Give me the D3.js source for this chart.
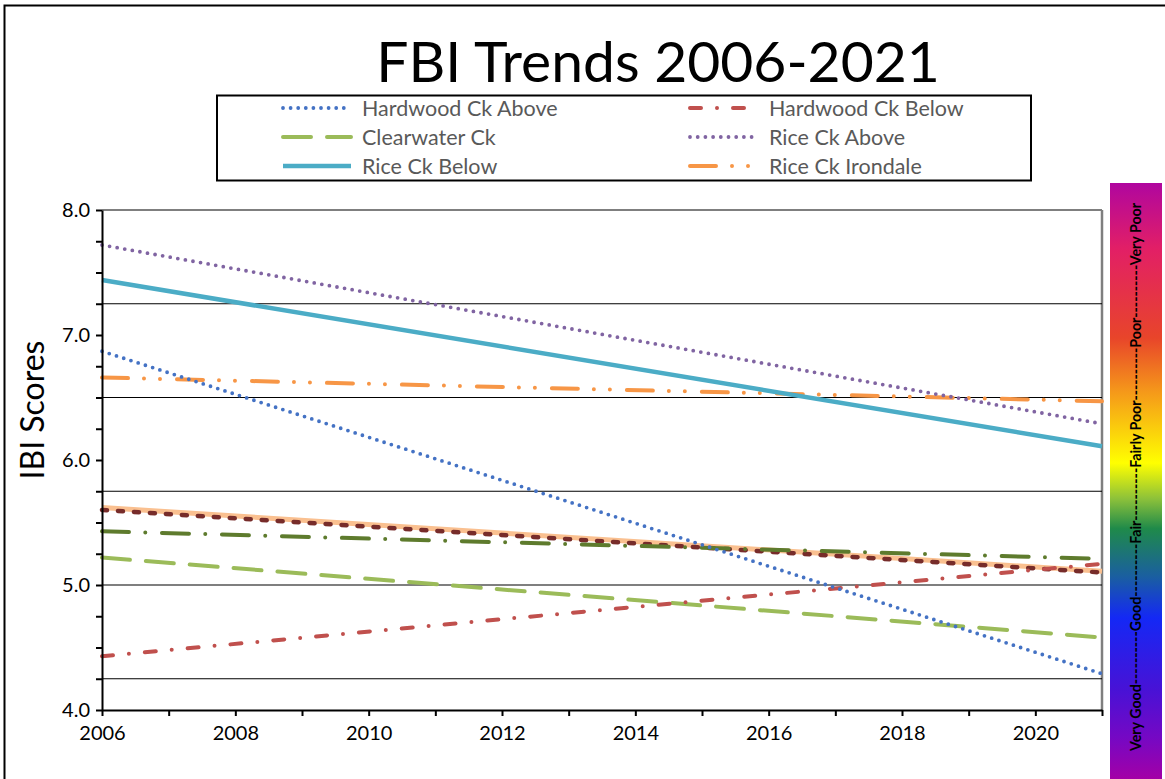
<!DOCTYPE html>
<html>
<head>
<meta charset="utf-8">
<script src="https://cdn.jsdelivr.net/npm/d3@7"></script>
<style>
  html, body { margin: 0; padding: 0; background: #ffffff; }
  svg { display: block; font-family: Lato, "Open Sans", sans-serif; }
</style>
</head>
<body>
<svg id="chart" width="1165" height="779"></svg>
<script>
// Trend lines, 2006 to 2021 (start and end score of each fitted trend)
const years = [2006, 2021];
const hardwoodAbove = [6.87, 4.29];
const hardwoodBelow = [4.43, 5.17];
const clearwater    = [5.22, 4.58];
const riceAbove     = [7.72, 6.29];
const riceBelow     = [7.44, 6.11];
const riceIrondale  = [6.66, 6.47];
// Trends drawn without a legend entry
const trendMaroon   = [5.60, 5.10];
const trendPeach    = [5.62, 5.11];
const trendOlive    = [5.43, 5.21];

const xTickLabels = [2006, 2008, 2010, 2012, 2014, 2016, 2018, 2020];
const yTickLabels = [4.0, 5.0, 6.0, 7.0, 8.0];
const ratingBreaks = [7.25, 6.5, 5.75, 5.0, 4.25];
const ratingLabels = ["Very Good", "Good", "Fair", "Fairly Poor", "Poor", "Very Poor"];

const W = 1165, H = 779;
const svg = d3.select("#chart");

const x = d3.scaleLinear().domain([2006, 2021]).range([102, 1102]);
const y = d3.scaleLinear().domain([4, 8]).range([710, 210]);

// Series styling (draw order: first is bottom-most)
const series = [
  { name: null, values: trendPeach,   color: "#FAC090", width: 5,   dash: null },
  { name: null, values: trendMaroon,  color: "#772C2A", width: 4.5, dash: "5 11" },
  { name: null, values: trendOlive,   color: "#5E7B2D", width: 4,   dash: "27 16.3 0 16.7" },
  { name: "Clearwater Ck",      values: clearwater,    color: "#9BBB59", width: 4,   dash: "28 16" },
  { name: "Hardwood Ck Below",  values: hardwoodBelow, color: "#C0504D", width: 4,   dash: "11 16 0 16" },
  { name: "Rice Ck Irondale",   values: riceIrondale,  color: "#F79646", width: 4,   dash: "26 16 0 16 0 17" },
  { name: "Rice Ck Below",      values: riceBelow,     color: "#4BACC6", width: 4.5, dash: null },
  { name: "Rice Ck Above",      values: riceAbove,     color: "#8064A2", width: 3.8, dash: "0 7.7" },
  { name: "Hardwood Ck Above",  values: hardwoodAbove, color: "#4472C4", width: 3.8, dash: "0 7.6" }
];

// Outer chart frame
svg.append("rect")
  .attr("x", 4.5).attr("y", 5.5)
  .attr("width", W + 20).attr("height", H + 20)
  .attr("fill", "none").attr("stroke", "#000").attr("stroke-width", 2);

// Title
svg.append("text")
  .attr("x", 658).attr("y", 82)
  .attr("text-anchor", "middle")
  .attr("font-size", 57)
  .attr("fill", "#000")
  .text("FBI Trends 2006-2021");

// Plot frame: top edge and grey right edge
svg.append("line")
  .attr("x1", x(2006)).attr("x2", x(2021))
  .attr("y1", y(8)).attr("y2", y(8))
  .attr("stroke", "#000").attr("stroke-width", 1.2);
svg.append("line")
  .attr("x1", x(2021)).attr("x2", x(2021))
  .attr("y1", y(8)).attr("y2", y(4))
  .attr("stroke", "#7F7F7F").attr("stroke-width", 2.5);

// Rating break lines
svg.append("g").selectAll("line")
  .data(ratingBreaks)
  .join("line")
  .attr("x1", x(2006)).attr("x2", x(2021))
  .attr("y1", d => y(d)).attr("y2", d => y(d))
  .attr("stroke", "#000").attr("stroke-width", 1.2);

// Trend lines
const line = d3.line().x(d => x(d[0])).y(d => y(d[1]));
svg.append("g").selectAll("path")
  .data(series)
  .join("path")
  .attr("d", s => line(years.map((yr, i) => [yr, s.values[i]])))
  .attr("fill", "none")
  .attr("stroke", s => s.color)
  .attr("stroke-width", s => s.width)
  .attr("stroke-linecap", s => s.dash ? "round" : "butt")
  .attr("stroke-dasharray", s => s.dash);

// Axes
const yAxis = d3.axisLeft(y)
  .tickValues(d3.range(0, 17).map(i => 4 + i * 0.25))
  .tickFormat(d => yTickLabels.includes(d) ? d.toFixed(1) : "")
  .tickSize(6).tickSizeOuter(0).tickPadding(6);
const gy = svg.append("g").attr("transform", `translate(${x(2006)},0)`).call(yAxis);

const xAxis = d3.axisBottom(x)
  .tickValues(d3.range(2006, 2022))
  .tickFormat(d => xTickLabels.includes(d) ? String(d) : "")
  .tickSize(6).tickSizeOuter(0).tickPadding(10);
const gx = svg.append("g").attr("transform", `translate(0,${y(4)})`).call(xAxis);

[gx, gy].forEach(g => {
  g.select(".domain").attr("stroke", "#000").attr("stroke-width", 2);
  g.selectAll(".tick line").attr("stroke", "#000").attr("stroke-width", 2);
  g.selectAll(".tick text")
    .attr("fill", "#000")
    .attr("font-size", 20)
    .attr("font-family", "Lato, sans-serif");
});

// Y axis title
svg.append("text")
  .attr("transform", "translate(44,410) rotate(-90)")
  .attr("text-anchor", "middle")
  .attr("font-size", 32)
  .attr("fill", "#000")
  .text("IBI Scores");

// Legend
const legend = svg.append("g");
legend.append("rect")
  .attr("x", 217).attr("y", 95.5)
  .attr("width", 814).attr("height", 85)
  .attr("fill", "#fff").attr("stroke", "#000").attr("stroke-width", 2);

const legendOrder = ["Hardwood Ck Above", "Hardwood Ck Below", "Clearwater Ck",
                     "Rice Ck Above", "Rice Ck Below", "Rice Ck Irondale"];
legendOrder.forEach((name, i) => {
  const s = series.find(d => d.name === name);
  const col = i % 2, row = Math.floor(i / 2);
  const x0 = col === 0 ? 283 : 690;
  const cy = 108 + row * 29;
  legend.append("line")
    .attr("x1", x0).attr("x2", x0 + 68)
    .attr("y1", cy).attr("y2", cy)
    .attr("stroke", s.color)
    .attr("stroke-width", s.width)
    .attr("stroke-linecap", s.dash ? "round" : "butt")
    .attr("stroke-dasharray", s.dash);
  legend.append("text")
    .attr("x", x0 + 79).attr("y", cy)
    .attr("dy", "0.35em")
    .attr("font-size", 21.5)
    .attr("fill", "#595959")
    .text(name);
});

// Rating colour bar
const defs = svg.append("defs");
const grad = defs.append("linearGradient")
  .attr("id", "ratingGradient")
  .attr("x1", 0).attr("y1", 0).attr("x2", 0).attr("y2", 1);
const gradStops = [
  [0.00, "#B0069F"], [0.11, "#E21F66"], [0.26, "#E8452A"], [0.35, "#F5981A"],
  [0.47, "#FFFF00"], [0.53, "#8CC13A"], [0.58, "#1F8A4A"], [0.66, "#1A5FA0"],
  [0.73, "#1428F5"], [0.85, "#4812D6"], [0.93, "#7508C4"], [1.00, "#A300A6"]
];
grad.selectAll("stop").data(gradStops).join("stop")
  .attr("offset", d => d[0]).attr("stop-color", d => d[1]);

svg.append("rect")
  .attr("x", 1110).attr("y", 183)
  .attr("width", 52).attr("height", H - 183)
  .attr("fill", "url(#ratingGradient)");

svg.append("text")
  .attr("transform", "translate(1135,477) rotate(-90)")
  .attr("text-anchor", "middle")
  .attr("dy", "0.35em")
  .attr("font-size", 16)
  .attr("font-weight", "bold")
  .attr("fill", "#000")
  .attr("textLength", 548)
  .attr("lengthAdjust", "spacingAndGlyphs")
  .text(ratingLabels.join("----------"));
</script>
</body>
</html>
